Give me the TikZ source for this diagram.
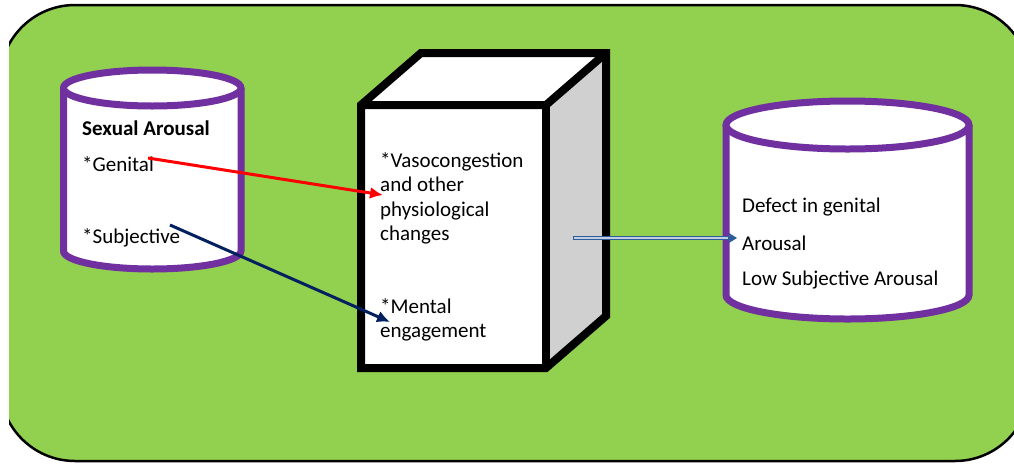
\documentclass[tikz,border=0pt]{standalone}
\usepackage{fontspec}
\setmainfont{Carlito}
\usetikzlibrary{arrows.meta}
\definecolor{bggreen}{HTML}{92D050}
\definecolor{cylpurple}{HTML}{7030A0}
\definecolor{navyarrow}{HTML}{002060}
\definecolor{bluearrow}{HTML}{2E5C9A}
\definecolor{boxgray}{HTML}{D0D0D0}
\tikzset{
  cyl/.style={draw=cylpurple, line width=7pt, fill=white},
  boxline/.style={draw=black, line width=8pt, line join=miter},
  txt/.style={inner sep=0pt, anchor=west, font=\fontsize{21}{24.5}\selectfont},
  redarrow/.style={draw=red, line width=3pt, -{Latex[length=13pt,width=12pt]}},
  navyarr/.style={draw=navyarrow, line width=3pt, -{Latex[length=13pt,width=12pt]}},
}
\begin{document}
\begin{tikzpicture}[x=1pt,y=-1pt]
\useasboundingbox (0,0) rectangle (1014,464);
% background panel
\begin{scope}
\clip (9,0) rectangle (1014,464);
\draw[fill=bggreen, draw=black, line width=2.5pt, rounded corners=75pt] (0,5) rectangle (1030,461);
\end{scope}

% left cylinder
\fill[white] (63.5,88) rectangle (241,251);
\fill[white] (152.25,251) ellipse [x radius=88.75, y radius=18];
\draw[cyl, fill=none] (63.5,88) -- (63.5,251) arc[start angle=180, end angle=0, x radius=88.75, y radius=18] -- (241,88);
\draw[cyl] (152.25,88) ellipse [x radius=88.75, y radius=18];
\node[inner sep=0pt, minimum width=177pt, minimum height=200pt] (leftcyl) at (152.25,170) {};

% right cylinder
\fill[white] (726,125) rectangle (969,295);
\fill[white] (847.5,295) ellipse [x radius=121.5, y radius=24];
\draw[cyl, fill=none] (726,125) -- (726,295) arc[start angle=180, end angle=0, x radius=121.5, y radius=24] -- (969,125);
\draw[cyl] (847.5,125) ellipse [x radius=121.5, y radius=24];
\node[inner sep=0pt, minimum width=243pt, minimum height=220pt] (rightcyl) at (847.5,210) {};

% middle box
\fill[white] (361,105) -- (421,53) -- (606,53) -- (546,105) -- cycle;
\fill[boxgray] (546,105) -- (606,53) -- (606,316) -- (546,368) -- cycle;
\fill[white] (361,105) rectangle (546,368);
\draw[boxline] (361,105) -- (421,53) -- (606,53) -- (606,316) -- (546,368) -- (361,368) -- cycle;
\draw[boxline] (361,105) -- (546,105) -- (606,53);
\draw[boxline] (546,105) -- (546,368);
\node[inner sep=0pt, minimum width=185pt, minimum height=263pt] (box) at (453.5,236.5) {};

% texts
\node[txt, font=\fontsize{21}{24.5}\selectfont\bfseries] (sa) at (82,128) {Sexual Arousal};
\node[txt] (gen) at (82,164) {*Genital};
\node[txt] (subj) at (82,238) {*Subjective};
\node[txt, align=left] (vaso) at (380,198.5) {*Vasocongestion\\and other\\physiological\\changes};
\node[txt, align=left] (mental) at (380,320) {*Mental\\engagement};
\node[txt] (def) at (742,207) {Defect in genital};
\node[txt] (aro) at (742,243) {Arousal};
\node[txt] (low) at (742,280) {Low Subjective Arousal};

% connectors
\coordinate (rs) at (148,158);
\coordinate (re) at (383,195);
\coordinate (ns) at (170,225);
\coordinate (ne) at (390,322);
\coordinate (bs) at (573,238);
\coordinate (be) at (737,238);
\draw[redarrow] (rs) -- (re);
\draw[navyarr] (ns) -- (ne);
\draw[draw=bluearrow, line width=4pt, -{Stealth[length=9pt,width=11pt]}] (bs) -- (be);
\draw[draw=white!70!bluearrow, line width=1.3pt, shorten >=9pt] (bs) ++(1.3,0) -- (be);
\end{tikzpicture}
\end{document}
